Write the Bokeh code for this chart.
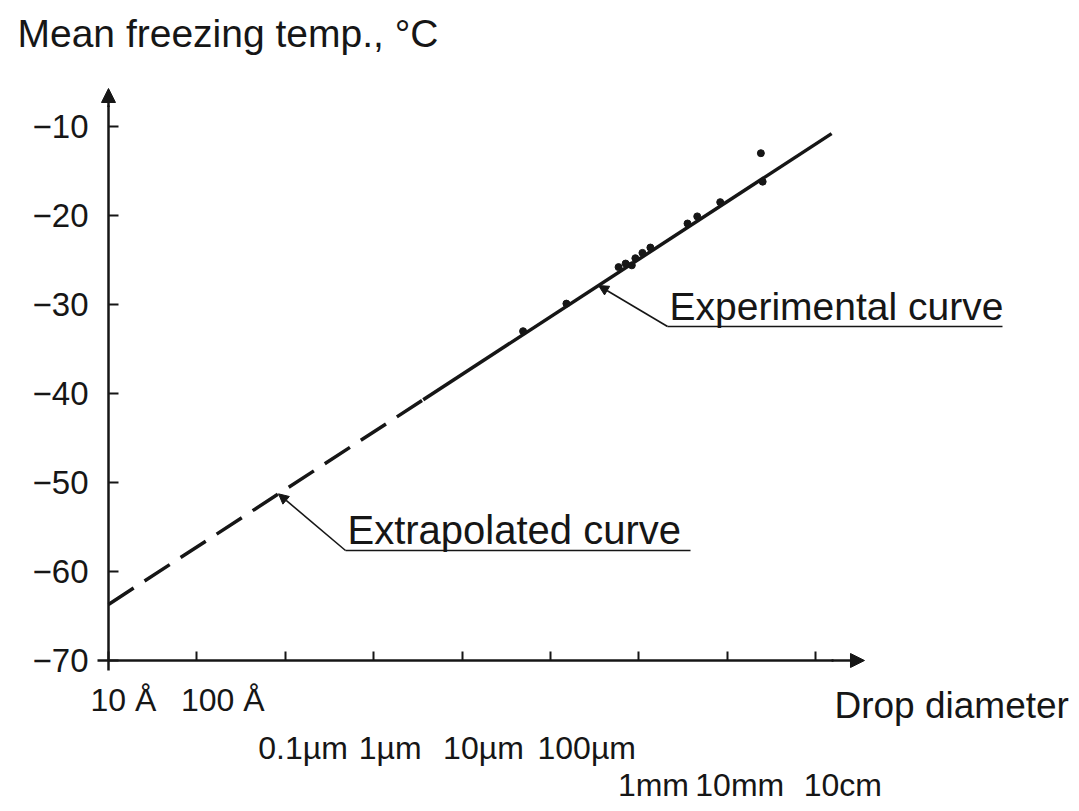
import numpy as np
from bokeh.plotting import figure
from bokeh.models import (Range1d, LinearAxis, FixedTicker, CustomJSTickFormatter,
                          Arrow, NormalHead, Label)
from bokeh.core.properties import value
from bokeh.embed import file_html
from bokeh.resources import INLINE

# ---------------- data ----------------
temp_ticks = [-70, -60, -50, -40, -30, -20, -10]          # deg C
size_ticks = [-9, -8, -7, -6, -5, -4, -3, -2, -1]        # log10(drop diameter / m)
size_labels = ["10 Å", "100 Å", "0.1µm", "1µm", "10µm", "100µm", "1mm", "10mm", "10cm"]

obs_log_d = [-4.31, -3.82, -3.23, -3.15, -3.08, -3.04, -2.96, -2.87, -2.45, -2.34, -2.08, -1.62, -1.60]
obs_temp = [-33.0, -29.9, -25.8, -25.4, -25.6, -24.8, -24.2, -23.6, -20.9, -20.1, -18.5, -13.0, -16.2]

extrap_log_d = [-9.0, -5.44]
extrap_temp = [-63.7, -40.7]
exp_log_d = [-5.44, -0.82]
exp_temp = [-40.7, -10.8]

# ---------------- style ----------------
INK = "#161616"
FONT = value("Liberation Sans")
W, H = 1071, 803
label_nudge_px = [-18, -16, -27, -15, -19, -13, -21, -32, -12]   # hand-lettered label placement
row_spans = [(0, 2), (2, 6), (6, 9)]
row_offsets_px = [39, 87, 124]

p = figure(width=W, height=H,
           x_range=Range1d(-10.2217, 1.8937), y_range=Range1d(-86.067, 4.157),
           x_axis_type=None, y_axis_type=None,
           min_border=0, toolbar_location=None, output_backend="svg")
p.outline_line_color = None
p.background_fill_color = "white"
p.border_fill_color = "white"

# y axis
yax = LinearAxis(fixed_location=-9, ticker=FixedTicker(ticks=temp_ticks),
                 bounds=(-71.1, -7.6))
yax.axis_line_color = INK
yax.axis_line_width = 2.5
yax.major_tick_in = 10
yax.major_tick_out = 0
yax.major_tick_line_color = INK
yax.major_tick_line_width = 2
yax.minor_tick_line_color = None
yax.major_label_text_font = "Liberation Sans"
yax.major_label_text_font_size = "33px"
yax.major_label_text_color = INK
yax.major_label_standoff = 20
yax.major_label_overrides = {t: "\u2212" + str(abs(t)) for t in temp_ticks}
p.add_layout(yax, "left")

# x axis
xax = LinearAxis(fixed_location=-70, ticker=FixedTicker(ticks=size_ticks),
                 bounds=(-9.124, -0.8),
                 formatter=CustomJSTickFormatter(code="return ''"))
xax.axis_line_color = INK
xax.axis_line_width = 2.5
xax.major_tick_in = 9
xax.major_tick_out = 0
xax.major_tick_line_color = INK
xax.major_tick_line_width = 2
xax.minor_tick_line_color = None
p.add_layout(xax, "below")

# axis arrows
p.add_layout(Arrow(x_start=-0.82, y_start=-70, x_end=-0.448, y_end=-70,
                   line_color=INK, line_width=2.5,
                   end=NormalHead(size=14, fill_color=INK, line_color=INK)))
p.add_layout(Arrow(x_start=-9, y_start=-7.8, x_end=-9, y_end=-5.73,
                   line_color=INK, line_width=2.5,
                   end=NormalHead(size=14, fill_color=INK, line_color=INK)))

# x tick labels in three staggered rows
for (a, b), dy in zip(row_spans, row_offsets_px):
    p.text(x=size_ticks[a:b], y=[-70] * (b - a), text=size_labels[a:b],
           x_offset=label_nudge_px[a:b], y_offset=dy,
           text_align="left", text_baseline="middle",
           text_font=FONT, text_font_size="32px", text_color=INK)

# curves
p.line(extrap_log_d, extrap_temp, line_color=INK, line_width=3.5, line_dash="30 13")
p.line(exp_log_d, exp_temp, line_color=INK, line_width=3.5)
p.scatter(obs_log_d, obs_temp, size=7, fill_color=INK, line_color=INK)

# callouts
def callout(tip_x, curve_x, curve_y, ul_x0, ul_x1, ul_y, txt, fs):
    tip_y = float(np.interp(tip_x, curve_x, curve_y))
    p.line([ul_x0, ul_x1], [ul_y, ul_y], line_color=INK, line_width=1.6)
    p.add_layout(Arrow(x_start=ul_x0, y_start=ul_y, x_end=tip_x, y_end=tip_y,
                       line_color=INK, line_width=1.6,
                       end=NormalHead(size=10, fill_color=INK, line_color=INK)))
    p.text(x=[ul_x0], y=[ul_y], text=[txt], x_offset=2, y_offset=-20,
           text_align="left", text_baseline="middle",
           text_font=FONT, text_font_size=fs, text_color=INK)

callout(-3.457, exp_log_d, exp_temp, -2.676, 1.113, -32.47, "Experimental curve", "39px")
callout(-7.077, extrap_log_d, extrap_temp, -6.319, -2.416, -57.64, "Extrapolated curve", "40px")

# axis titles
p.add_layout(Label(x=17, y=H - 33, x_units="screen", y_units="screen",
                   text="Mean freezing temp., °C", text_baseline="middle",
                   text_font="Liberation Sans", text_font_size="39px", text_color=INK))
p.add_layout(Label(x=834, y=H - 705, x_units="screen", y_units="screen",
                   text="Drop diameter", text_baseline="middle",
                   text_font="Liberation Sans", text_font_size="37px", text_color=INK))

open("out.html", "w").write(file_html(p, INLINE))
